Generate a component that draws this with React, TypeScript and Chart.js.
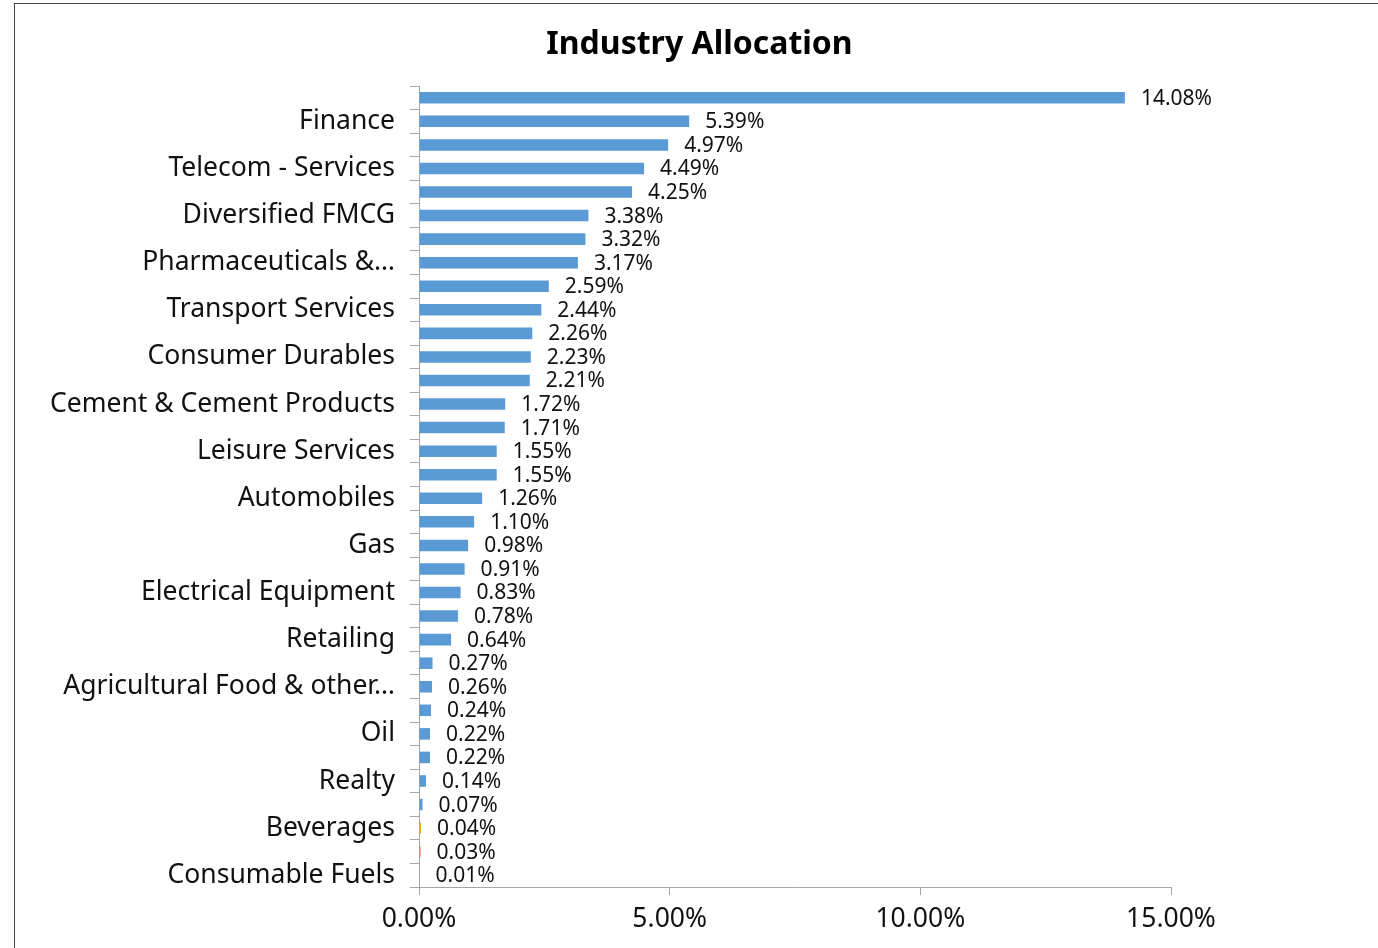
import { useEffect, useRef } from 'react';
import { Chart, registerables } from 'chart.js';

Chart.register(...registerables);

const chartTitle = 'Industry Allocation';

const visibleCategories = [
  'Finance',
  'Telecom - Services',
  'Diversified FMCG',
  'Pharmaceuticals &…',
  'Transport Services',
  'Consumer Durables',
  'Cement & Cement Products',
  'Leisure Services',
  'Automobiles',
  'Gas',
  'Electrical Equipment',
  'Retailing',
  'Agricultural Food & other…',
  'Oil',
  'Realty',
  'Beverages',
  'Consumable Fuels',
];

const allocationValues = [
  14.08, 5.39, 4.97, 4.49, 4.25, 3.38, 3.32, 3.17, 2.59, 2.44, 2.26, 2.23, 2.21, 1.72, 1.71, 1.55, 1.55,
  1.26, 1.1, 0.98, 0.91, 0.83, 0.78, 0.64, 0.27, 0.26, 0.24, 0.22, 0.22, 0.14, 0.07, 0.04, 0.03, 0.01,
];

const xTickValues = [0, 5, 10, 15];

const FONT = '"Noto Sans", sans-serif';
const BAR_BLUE = '#5B9BD5';
const colorOverrides: Record<number, string> = { 31: '#F5A523', 32: '#EE6A4E', 33: '#4F6FA6' };

const categoryLabels = allocationValues.map((_, i) => (i % 2 === 1 ? visibleCategories[(i - 1) / 2] : ''));
const barColors = allocationValues.map((_, i) => colorOverrides[i] ?? BAR_BLUE);

const valueLabelPlugin = {
  id: 'valueLabels',
  afterDatasetsDraw(chart: any) {
    const ctx = chart.ctx;
    const meta = chart.getDatasetMeta(0);
    ctx.save();
    ctx.font = `21px ${FONT}`;
    ctx.fillStyle = '#111';
    ctx.textAlign = 'left';
    ctx.textBaseline = 'middle';
    meta.data.forEach((bar: any, i: number) => {
      const v = allocationValues[i];
      ctx.fillText(v.toFixed(2) + '%', bar.x + 16, bar.y + 1);
    });
    ctx.restore();
  },
};

const titlePlugin = {
  id: 'customTitle',
  afterDraw(chart: any) {
    const ctx = chart.ctx;
    ctx.save();
    ctx.font = `bold 32px ${FONT}`;
    ctx.fillStyle = '#000';
    ctx.textAlign = 'center';
    ctx.textBaseline = 'middle';
    ctx.fillText(chartTitle, 699.5, 45);
    ctx.restore();
  },
};

export default function App() {
  const canvasRef = useRef<HTMLCanvasElement | null>(null);

  useEffect(() => {
    if (!canvasRef.current) return;
    const chart = new Chart(canvasRef.current, {
      type: 'bar',
      data: {
        labels: categoryLabels,
        datasets: [
          {
            data: allocationValues,
            backgroundColor: barColors,
            borderWidth: 0,
            barPercentage: 0.49,
            categoryPercentage: 1,
          },
        ],
      },
      options: {
        indexAxis: 'y',
        responsive: false,
        maintainAspectRatio: false,
        animation: false,
        devicePixelRatio: 1,
        layout: { padding: { left: 0, right: 207, top: 86, bottom: 0 } },
        plugins: {
          legend: { display: false },
          tooltip: { enabled: false },
          title: { display: false },
        },
        scales: {
          x: {
            type: 'linear',
            min: 0,
            max: 15,
            afterBuildTicks: (scale: any) => {
              scale.ticks = xTickValues.map((v) => ({ value: v }));
            },
            afterFit: (scale: any) => {
              scale.height = 61;
            },
            ticks: {
              callback: (v: any) => Number(v).toFixed(2) + '%',
              color: '#111',
              font: { family: FONT, size: 26.5 },
              padding: 9,
              maxRotation: 0,
            },
            grid: {
              drawOnChartArea: false,
              drawTicks: true,
              tickLength: 8,
              color: '#A6A6A6',
            },
            border: { display: true, color: '#A6A6A6', width: 1 },
          },
          y: {
            type: 'category',
            afterFit: (scale: any) => {
              scale.width = 419;
            },
            ticks: {
              autoSkip: false,
              callback: (_v: any, i: number) => categoryLabels[i],
              color: '#111',
              font: { family: FONT, size: 26.5 },
              padding: 15,
            },
            grid: {
              offset: true,
              drawOnChartArea: false,
              drawTicks: true,
              tickLength: 9,
              color: '#A6A6A6',
            },
            border: { display: true, color: '#A6A6A6', width: 1 },
          },
        },
      },
      plugins: [valueLabelPlugin, titlePlugin],
    } as any);
    return () => chart.destroy();
  }, []);

  return (
    <div style={{ position: 'fixed', left: 0, top: 0, width: 1378, height: 948, background: '#fff', overflow: 'hidden' }}>
      <canvas ref={canvasRef} width={1378} height={948} style={{ position: 'absolute', left: 0, top: 0 }} />
      <div
        style={{
          position: 'absolute',
          left: 14,
          top: 3,
          width: 1364,
          height: 945,
          borderLeft: '1px solid #444',
          borderTop: '1px solid #444',
          boxSizing: 'border-box',
          pointerEvents: 'none',
        }}
      />
    </div>
  );
}
